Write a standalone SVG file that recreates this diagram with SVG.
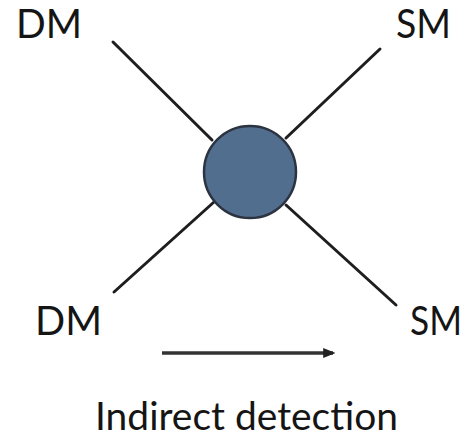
<svg xmlns="http://www.w3.org/2000/svg" width="471" height="437" viewBox="0 0 471 437">
  <style>
    .lbl { font-family: Lato, "Liberation Sans", sans-serif; font-size: 40px; fill: #151515; }
    .cap { font-family: Lato, "Liberation Sans", sans-serif; font-size: 39px; fill: #151515; }
    .leg { stroke: #1e1e1e; stroke-width: 3; stroke-linecap: round; }
  </style>
  <defs>
    <marker id="head" viewBox="0 0 10 10" refX="8" refY="5" markerWidth="3.5" markerHeight="3.5" orient="auto">
      <path d="M0,1 L10,5 L0,9 Z" fill="#222"/>
    </marker>
  </defs>
  <rect width="471" height="437" fill="#ffffff"/>
  <g id="connectors">
    <line class="leg" x1="113" y1="42" x2="212" y2="140"/>
    <line class="leg" x1="380" y1="49" x2="286" y2="138"/>
    <line class="leg" x1="114" y1="292" x2="214" y2="202"/>
    <line class="leg" x1="396" y1="305" x2="286" y2="205"/>
    <line x1="162" y1="353" x2="333" y2="353" stroke="#333" stroke-width="3.5" marker-end="url(#head)"/>
  </g>
  <g id="vertex">
    <circle cx="250" cy="172" r="46" fill="#526e8f" stroke="#2b3440" stroke-width="2.5"/>
  </g>
  <g id="dm-top"><text class="lbl" x="16" y="38" textLength="66" lengthAdjust="spacingAndGlyphs">DM</text></g>
  <g id="sm-top"><text class="lbl" x="396" y="38" textLength="55" lengthAdjust="spacingAndGlyphs">SM</text></g>
  <g id="dm-bottom"><text class="lbl" x="35" y="335" textLength="67" lengthAdjust="spacingAndGlyphs">DM</text></g>
  <g id="sm-bottom"><text class="lbl" x="410" y="335" textLength="52" lengthAdjust="spacingAndGlyphs">SM</text></g>
  <g id="caption"><text class="cap" x="95" y="430" textLength="303" lengthAdjust="spacingAndGlyphs">Indirect detection</text></g>
</svg>
